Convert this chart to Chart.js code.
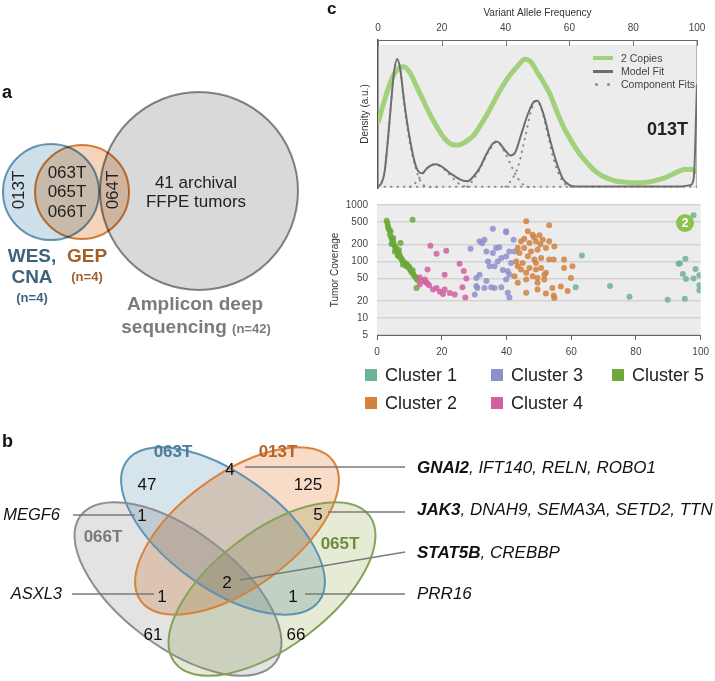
<!DOCTYPE html>
<html>
<head>
<meta charset="utf-8">
<script src="https://cdn.jsdelivr.net/npm/chart.js@4.4.0/dist/chart.umd.min.js"></script>
<style>
  body { margin: 0; background: #fff; font-family: "Liberation Sans", Arial, sans-serif; }
  #page { position: relative; width: 715px; height: 681px; overflow: hidden; }
  .box { position: absolute; }
  .t { position: absolute; white-space: nowrap; color: #222; transform: translateY(-50%); line-height: 1; }
</style>
</head>
<body>
<div id="page">
  <div class="box" style="left:0;top:0;width:300px;height:340px"><canvas id="vennA"></canvas></div>
  <div class="box" style="left:300px;top:0;width:415px;height:195px"><canvas id="density"></canvas></div>
  <div class="box" style="left:300px;top:190px;width:415px;height:180px"><canvas id="coverage"></canvas></div>
  <div class="box" style="left:0;top:390px;width:715px;height:291px"><canvas id="vennB"></canvas></div>
</div>
<script>
// ---------- panel a : which samples went through which assay
const setNames = ['WES,', 'CNA', 'GEP', 'Amplicon deep', 'sequencing'];
const setSizes = [4, 4, 42];
const wesOnly = ['013T'];
const wesAndGep = ['063T', '065T', '066T'];
const gepAndAmplicon = ['064T'];
const archivalText = ['41 archival', 'FFPE tumors'];

// ---------- panel b : shared variants between the 4 tumours
const sampleNames = ['063T', '013T', '066T', '065T'];
const regionCounts = [4, 47, 125, 1, 5, 2, 1, 1, 61, 66];
const rightGenes = [
  ['GNAI2', ', IFT140, RELN, ROBO1'],
  ['JAK3', ', DNAH9, SEMA3A, SETD2, TTN'],
  ['STAT5B', ', CREBBP'],
  ['', 'PRR16']
];
const leftGenes = ['MEGF6', 'ASXL3'];

// ---------- panel c, top : density vs VAF
const copiesVaf = [0,2,4,6,8,10,12,14,16,18,20,22,24,26,28,30,32,34,36,38,40,42,44,46,48,50,52,54,56,58,60,62,64,66,68,70,72,74,76,78,80,82,84,86,88,90,92,94,96,98,100];
const copiesDensity = [44,59,72,80,82,78,69,60,51,43,36,31,29,29.5,32,35.5,42,49,57,65,72,78,83,87,85,78,71,63,52,42,34,27,21,16,11.5,8.5,6.5,5,4.2,3.8,3.6,3.6,3.8,4.5,5.6,7,9,11,12.5,12.6,11];
const fitVaf = [0,1,2,3,4,5,6,7,8,9,10,11,12,13,14,15,16,18,20,22,24,26,28,30,32,34,36,37,38,40,41.5,43,45,47,49,50,52,54,56,58,60,62,70,80,90,95,98,99,100];
const fitDensity = [1,3,10,30,55,78,87,80,62,46,33,22,14,10.5,10,12.5,14.5,16,14.5,11,8,5.5,4.5,8,14,23,30,31.5,30.5,25,22,24,37,50,58.5,59,49,32,17,6,2,1,1,1,1,1,2,7,70];
const comp1Vaf = [0,2,3,4,5,6,7,8,10,12,13,14,16,20];
const comp1Density = [1,10,30,55,78,87,80,60,30,12,6,2.5,0.8,0.5];
const comp2Vaf = [10,12,14,16,18,20,22,24,26,28];
const comp2Density = [0.8,4,10,14.5,16,14,10,5.5,2,0.8];
const comp3Vaf = [28,30,32,34,36,37,38,40,42,44,46,48];
const comp3Density = [0.8,6,13,22,29,31,30,23,14,6,1.5,0.5];
const comp4Vaf = [40,42,44,46,48,49.5,51,53,55,57,59,61];
const comp4Density = [0.8,6,15,33,52,59,55,38,20,8,2,0.5];
const baseVaf = [0,50,100];
const baseDensity = [0.8,0.8,0.8];

// ---------- panel c, bottom : coverage vs VAF per cluster
const clusterNames = ['Cluster 1', 'Cluster 2', 'Cluster 3', 'Cluster 4', 'Cluster 5'];
const c1Vaf = [97.8,63.3,61.4,72.0,78.0,89.8,95.1,93.2,93.6,95.3,98.4,94.5,95.5,97.8,99.6,99.6,99.6];
const c1Cov = [656,128,35,37,23.7,21,22,91,93,112,74,60,49,50,57,38,31];
const c2Vaf = [46.1,53.2,46.6,48.1,50.2,45.5,44.5,47.1,49.1,51.2,53.2,43.5,45.5,47.6,49.6,52.2,54.8,44.0,46.6,48.6,50.7,53.2,54.6,43.0,45.0,47.1,49.1,50.7,52.2,43.5,44.5,46.1,48.1,49.6,43.5,46.1,49.6,51.7,54.2,56.8,58.9,57.8,60.4,57.8,59.9,46.1,49.6,54.8,54.6,51.7,42.5,49.1,52.2,48.5,50.5];
const c2Cov = [514,437,342,298,290,253,228,212,228,243,228,173,173,151,161,173,185,141,124,108,115,108,108,100,94,77,72,77,63,82,72,63,55,51,42,48,42,48,34,36,30,77,82,108,51,28,32,22.5,25,58,55,94,27,270,200];
const c3Vaf = [35.8,39.9,31.7,33.2,33.8,35.8,36.8,37.8,38.4,39.9,40.9,42.2,42.5,34.3,34.8,36.3,37.3,38.9,40.4,41.4,40.9,31.7,33.8,36.3,38.4,35.3,31.0,30.2,40.4,40.9,33.2,39.9,30.7,30.7,32.5,28.9,39.9];
const c3Cov = [381,342,228,243,151,141,173,178,115,123,151,243,151,100,82,82,100,71,67,94,58,58,45,34,35,35,34,26,28,23,34,48,51,37,210,168,330];
const c4Vaf = [16.5,18.4,21.4,15.6,20.9,25.5,26.8,27.6,26.4,13.2,14.8,15.1,13.2,16.1,17.3,18.4,19.4,20.4,20.9,22.5,24.0,27.3,14.0,15.5];
const c4Cov = [190,137,155,72,58,91,68,50,35,52,48,43,39,38,32,34,29,26.5,32,27.6,26,23,45,41];
const c5Vaf = [3.0,3.2,3.4,3.5,3.8,4.2,4.0,4.4,4.6,5.0,4.5,5.2,5.5,5.8,6.0,5.5,6.2,6.6,7.3,6.6,7.0,7.3,7.6,8.1,8.4,8.8,9.1,9.5,9.8,10.2,10.5,10.8,11.2,11.6,12.0,12.2,12.5,8.0,9.0,7.8,6.8,5.0,4.8,6.4,10.0,11.0,11.0,12.2];
const c5Cov = [527,480,420,391,360,342,300,270,250,228,205,200,185,175,165,151,150,140,212,124,130,118,110,100,95,90,82,85,78,72,68,64,60,55,52,50,47,88,92,104,160,260,210,130,80,70,549,34];
const vafTicks = [0, 20, 40, 60, 80, 100];
const coverageTicks = [5, 10, 20, 50, 100, 200, 500, 1000];

// ---------- look
const FONT = '"Liberation Sans", Arial, sans-serif';
Chart.defaults.font.family = FONT;
Chart.defaults.animation = false;
const clusterColors = ['#6db396', '#d0823f', '#8e8fcb', '#d35fa3', '#6ca83a'];

function pairs(xs, ys) {
  return xs.map((x, i) => ({x: x, y: ys[i]}));
}

const page = document.getElementById('page');
function label(text, x, y, css) {
  const d = document.createElement('div');
  d.className = 't';
  d.textContent = text;
  d.style.left = x + 'px';
  d.style.top = y + 'px';
  d.style.cssText += css || '';
  page.appendChild(d);
  return d;
}

// grey plot background
const plotBg = {
  id: 'plotBg',
  beforeDraw(chart, args, opts) {
    const a = chart.chartArea, ctx = chart.ctx, inset = opts.inset || 0;
    ctx.save();
    ctx.fillStyle = opts.color;
    ctx.fillRect(a.left, a.top + inset, a.right - a.left, a.bottom - a.top - inset);
    if (opts.rightLine) {
      ctx.strokeStyle = opts.rightLine;
      ctx.beginPath(); ctx.moveTo(a.right - 0.5, a.top); ctx.lineTo(a.right - 0.5, a.bottom); ctx.stroke();
    }
    ctx.restore();
  }
};

// short ticks pointing down from the top axis
const innerTicks = {
  id: 'innerTicks',
  afterDraw(chart) {
    const x = chart.scales.x, ctx = chart.ctx, top = chart.chartArea.top;
    ctx.save();
    ctx.strokeStyle = '#777';
    ctx.lineWidth = 1;
    x.ticks.forEach(t => {
      const px = Math.round(x.getPixelForValue(t.value)) + 0.5;
      ctx.beginPath(); ctx.moveTo(px, top); ctx.lineTo(px, top + 6); ctx.stroke();
    });
    ctx.restore();
  }
};

// overlapping shapes are blended like the printed figure
const multiplyBlend = {
  id: 'multiplyBlend',
  beforeDatasetsDraw(chart) { chart.ctx.save(); chart.ctx.globalCompositeOperation = 'multiply'; },
  afterDatasetsDraw(chart) { chart.ctx.restore(); }
};

function drawText(ctx, text, x, y, font, color, align, rot) {
  ctx.save();
  ctx.font = font;
  ctx.fillStyle = color;
  ctx.textAlign = align || 'center';
  ctx.textBaseline = 'middle';
  ctx.translate(x, y);
  if (rot) ctx.rotate(rot);
  ctx.fillText(text, 0, 0);
  ctx.restore();
}

// ================= panel a
const vennALayout = {
  circles: [
    {x: 51, y: 192, r: 48, fill: '#d0e0ea', line: '#6a9cbc'},
    {x: 82, y: 192, r: 47, fill: '#f4d4bb', line: '#d8853e'},
    {x: 199, y: 191, r: 99, fill: '#d9d9d9', line: '#8a8a8a'}
  ]
};

const vennAText = {
  id: 'vennAText',
  afterDraw(chart) {
    const ctx = chart.ctx, sx = chart.scales.x, sy = chart.scales.y;
    const P = (x, y) => [sx.getPixelForValue(x), sy.getPixelForValue(y)];
    let p;
    p = P(19, 190); drawText(ctx, wesOnly[0], p[0], p[1], '17px ' + FONT, '#222', 'center', -Math.PI / 2);
    wesAndGep.forEach((s, i) => { p = P(67, 173 + i * 19.5); drawText(ctx, s, p[0], p[1], '17px ' + FONT, '#222'); });
    p = P(113, 190); drawText(ctx, gepAndAmplicon[0], p[0], p[1], '17px ' + FONT, '#222', 'center', -Math.PI / 2);
    archivalText.forEach((s, i) => { p = P(196, 183 + i * 19.5); drawText(ctx, s, p[0], p[1], '17px ' + FONT, '#222'); });
    p = P(32, 257); drawText(ctx, setNames[0], p[0], p[1], 'bold 19px ' + FONT, '#3e6479');
    p = P(32, 278); drawText(ctx, setNames[1], p[0], p[1], 'bold 19px ' + FONT, '#3e6479');
    p = P(32, 298); drawText(ctx, '(n=' + setSizes[0] + ')', p[0], p[1], 'bold 13px ' + FONT, '#3e6479');
    p = P(87, 257); drawText(ctx, setNames[2], p[0], p[1], 'bold 19px ' + FONT, '#a35f28');
    p = P(87, 277); drawText(ctx, '(n=' + setSizes[1] + ')', p[0], p[1], 'bold 13px ' + FONT, '#a35f28');
    p = P(195, 305); drawText(ctx, setNames[3], p[0], p[1], 'bold 19px ' + FONT, '#7b7b7b');
    ctx.save();
    ctx.font = 'bold 19px ' + FONT; const w1 = ctx.measureText(setNames[4] + ' ').width;
    ctx.font = 'bold 13px ' + FONT; const w2 = ctx.measureText('(n=' + setSizes[2] + ')').width;
    ctx.restore();
    p = P(196, 328);
    const x0 = p[0] - (w1 + w2) / 2;
    drawText(ctx, setNames[4], x0, p[1], 'bold 19px ' + FONT, '#7b7b7b', 'left');
    drawText(ctx, '(n=' + setSizes[2] + ')', x0 + w1, p[1] + 1, 'bold 13px ' + FONT, '#7b7b7b', 'left');
  }
};

new Chart(document.getElementById('vennA'), {
  type: 'bubble',
  data: {
    datasets: vennALayout.circles.map((c, i) => ({
      label: ['WES, CNA', 'GEP', 'Amplicon deep sequencing'][i],
      data: [{x: c.x, y: c.y, r: c.r}],
      backgroundColor: c.fill,
      borderColor: c.line,
      borderWidth: 2,
      order: 2 - i,
      clip: false
    }))
  },
  options: {
    responsive: true, maintainAspectRatio: false,
    layout: {padding: 0, autoPadding: false},
    plugins: {legend: {display: false}, tooltip: {enabled: false}},
    scales: {
      x: {type: 'linear', display: false, min: 0, max: 300},
      y: {type: 'linear', display: false, min: 0, max: 340, reverse: true}
    }
  },
  plugins: [multiplyBlend, vennAText]
});

// ================= panel b
const vennBLayout = {
  ellipses: [
    {cx: 223, cy: 531, a: 119, b: 57, rot: 36, fill: '#d6e4ec', line: '#5f93b3'},
    {cx: 237, cy: 531, a: 119, b: 57, rot: -36, fill: '#f8dcc8', line: '#d9823a'},
    {cx: 178, cy: 589, a: 122, b: 58, rot: 37, fill: '#e3e3e3', line: '#8e8e8e'},
    {cx: 272, cy: 589, a: 122, b: 58, rot: -37, fill: '#e6ebd5', line: '#84a35a'}
  ],
  names: [[173, 452, '#4a7c9a'], [278, 452, '#b5652b'], [103, 537, '#7a7a7a'], [340, 544, '#6f8c3e']],
  counts: [[230, 470], [147, 485], [308, 485], [142, 516], [318, 515], [227, 583], [162, 597], [293, 597], [153, 635], [296, 635]],
  rightLines: [[[245, 467], [405, 467]], [[328, 512], [405, 512]], [[240, 580], [405, 552]], [[305, 594], [405, 594]]],
  rightText: [[417, 468], [417, 510], [417, 553], [417, 594]],
  leftLines: [[[73, 515], [135, 515]], [[72, 594], [154, 594]]],
  leftText: [[60, 515], [62, 594]]
};

const vennBDraw = {
  id: 'vennBDraw',
  beforeDatasetsDraw(chart) {
    const ctx = chart.ctx, sx = chart.scales.x, sy = chart.scales.y;
    ctx.save();
    ctx.globalCompositeOperation = 'multiply';
    vennBLayout.ellipses.forEach(e => {
      ctx.beginPath();
      ctx.ellipse(sx.getPixelForValue(e.cx), sy.getPixelForValue(e.cy), e.a, e.b, e.rot * Math.PI / 180, 0, Math.PI * 2);
      ctx.fillStyle = e.fill;
      ctx.fill();
    });
    ctx.globalCompositeOperation = 'source-over';
    ctx.lineWidth = 2;
    vennBLayout.ellipses.forEach(e => {
      ctx.beginPath();
      ctx.ellipse(sx.getPixelForValue(e.cx), sy.getPixelForValue(e.cy), e.a, e.b, e.rot * Math.PI / 180, 0, Math.PI * 2);
      ctx.strokeStyle = e.line;
      ctx.stroke();
    });
    ctx.restore();
  },
  afterDatasetsDraw(chart) {
    const ctx = chart.ctx, sx = chart.scales.x, sy = chart.scales.y;
    const P = (q) => [sx.getPixelForValue(q[0]), sy.getPixelForValue(q[1])];
    ctx.save();
    ctx.strokeStyle = '#7a7a7a';
    ctx.lineWidth = 1.5;
    vennBLayout.rightLines.concat(vennBLayout.leftLines).forEach(l => {
      const a = P(l[0]), b = P(l[1]);
      ctx.beginPath(); ctx.moveTo(a[0], a[1]); ctx.lineTo(b[0], b[1]); ctx.stroke();
    });
    ctx.restore();
    sampleNames.forEach((s, i) => {
      const n = vennBLayout.names[i], p = P(n);
      drawText(ctx, s, p[0], p[1], 'bold 17px ' + FONT, n[2]);
    });
    const meta = chart.getDatasetMeta(0);
    meta.data.forEach((pt, i) => {
      drawText(ctx, String(regionCounts[i]), pt.x, pt.y, '17px ' + FONT, '#111');
    });
    rightGenes.forEach((g, i) => {
      const p = P(vennBLayout.rightText[i]);
      ctx.save();
      ctx.font = 'italic bold 17px ' + FONT;
      const w = g[0] ? ctx.measureText(g[0]).width : 0;
      ctx.restore();
      if (g[0]) drawText(ctx, g[0], p[0], p[1], 'italic bold 17px ' + FONT, '#111', 'left');
      drawText(ctx, g[1], p[0] + w, p[1], 'italic 17px ' + FONT, '#111', 'left');
    });
    leftGenes.forEach((g, i) => {
      const p = P(vennBLayout.leftText[i]);
      drawText(ctx, g, p[0], p[1], 'italic 16.5px ' + FONT, '#111', 'right');
    });
  }
};

new Chart(document.getElementById('vennB'), {
  type: 'scatter',
  data: {
    datasets: [{
      label: 'shared variants',
      data: vennBLayout.counts.map(c => ({x: c[0], y: c[1]})),
      pointRadius: 0
    }]
  },
  options: {
    responsive: true, maintainAspectRatio: false,
    layout: {padding: 0, autoPadding: false},
    plugins: {legend: {display: false}, tooltip: {enabled: false}},
    scales: {
      x: {type: 'linear', display: false, min: 0, max: 715},
      y: {type: 'linear', display: false, min: 390, max: 681, reverse: true}
    }
  },
  plugins: [vennBDraw]
});

// ================= panel c, density
const lineStyle = {showLine: true, pointRadius: 0, cubicInterpolationMode: 'monotone', fill: false};
const dotted = {borderColor: '#8a8a8a', borderWidth: 2, borderDash: [0.5, 6], borderCapStyle: 'round'};

new Chart(document.getElementById('density'), {
  type: 'scatter',
  data: {
    datasets: [
      Object.assign({label: 'Model Fit', data: pairs(fitVaf, fitDensity), borderColor: '#6e6e6e', borderWidth: 2, order: 0}, lineStyle),
      Object.assign({label: '2 Copies', data: pairs(copiesVaf, copiesDensity), borderColor: '#a3d17b', borderWidth: 5, order: 1}, lineStyle),
      Object.assign({label: 'Component Fits', data: pairs(comp1Vaf, comp1Density), order: 2}, lineStyle, dotted),
      Object.assign({label: 'Component Fits', data: pairs(comp2Vaf, comp2Density), order: 2}, lineStyle, dotted),
      Object.assign({label: 'Component Fits', data: pairs(comp3Vaf, comp3Density), order: 2}, lineStyle, dotted),
      Object.assign({label: 'Component Fits', data: pairs(comp4Vaf, comp4Density), order: 2}, lineStyle, dotted),
      Object.assign({label: 'Component Fits', data: pairs(baseVaf, baseDensity), order: 2}, lineStyle, dotted)
    ]
  },
  options: {
    responsive: true, maintainAspectRatio: false,
    layout: {padding: {left: 55, right: 18, top: 0, bottom: 7}, autoPadding: false},
    plugins: {
      legend: {display: false}, tooltip: {enabled: false},
      plotBg: {color: '#ececec', inset: 5, rightLine: '#b5b5b5'}
    },
    scales: {
      x: {
        type: 'linear', position: 'top', min: 0, max: 100,
        afterBuildTicks(s) { s.ticks = vafTicks.map(v => ({value: v})); },
        ticks: {padding: 6, color: '#444', font: {size: 10}},
        grid: {display: false, drawTicks: false},
        border: {display: true, color: '#666', width: 1},
        title: {display: true, text: 'Variant Allele Frequency', color: '#333', font: {size: 10}, padding: {top: 7, bottom: 0}},
        afterFit(s) { s.height = 40; }
      },
      y: {
        min: 0, max: 100,
        ticks: {display: false},
        grid: {display: false, drawTicks: false},
        border: {display: true, color: '#555', width: 1.5},
        title: {display: true, text: 'Density (a.u.)', color: '#333', font: {size: 10}, padding: {top: 4, bottom: 0}},
        afterFit(s) { s.width = 23; }
      }
    }
  },
  plugins: [plotBg, innerTicks]
});

// ================= panel c, coverage
new Chart(document.getElementById('coverage'), {
  type: 'scatter',
  data: {
    datasets: [
      [c1Vaf, c1Cov], [c2Vaf, c2Cov], [c3Vaf, c3Cov], [c4Vaf, c4Cov], [c5Vaf, c5Cov]
    ].map((d, i) => ({
      label: clusterNames[i],
      data: pairs(d[0], d[1]),
      backgroundColor: clusterColors[i] + 'd9',
      borderWidth: 0,
      pointRadius: 3
    }))
  },
  options: {
    responsive: true, maintainAspectRatio: false,
    layout: {padding: {left: 25, right: 13, top: 15, bottom: 0}, autoPadding: false},
    plugins: {
      legend: {display: false}, tooltip: {enabled: false},
      plotBg: {color: '#ececec', inset: 0}
    },
    scales: {
      x: {
        type: 'linear', min: 0, max: 100,
        afterBuildTicks(s) { s.ticks = vafTicks.map(v => ({value: v})); },
        ticks: {padding: 6, color: '#444', font: {size: 10}},
        grid: {drawOnChartArea: false, tickLength: 5, color: '#666'},
        border: {display: true, color: '#666', width: 1},
        afterFit(s) { s.height = 35; }
      },
      y: {
        type: 'logarithmic', min: 5, max: 1000,
        afterBuildTicks(s) { s.ticks = coverageTicks.map(v => ({value: v})); },
        ticks: {padding: 9, color: '#444', font: {size: 10}, callback: v => String(v)},
        grid: {color: '#d3d3d3', lineWidth: 1.5, drawTicks: false},
        border: {display: false},
        title: {display: true, text: 'Tumor Coverage', color: '#333', font: {size: 10}, padding: {top: 4, bottom: 0}},
        afterFit(s) { s.width = 52; }
      }
    }
  },
  plugins: [plotBg]
});

// ================= html bits: panel letters, legends, badges
label('a', 2, 92, 'font-weight:bold;font-size:18px;color:#111');
label('b', 2, 441, 'font-weight:bold;font-size:18px;color:#111');
label('c', 327, 8, 'font-weight:bold;font-size:17px;color:#111');

// density legend
const dLegend = [['2 Copies', 58], ['Model Fit', 71], ['Component Fits', 84]];
dLegend.forEach(l => label(l[0], 621, l[1], 'font-size:10.5px;color:#444'));
const gl = document.createElement('div');
gl.style.cssText = 'position:absolute;left:593px;top:56px;width:20px;height:4px;background:#a3d17b';
page.appendChild(gl);
const ml = document.createElement('div');
ml.style.cssText = 'position:absolute;left:593px;top:70px;width:20px;height:3px;background:#6e6e6e';
page.appendChild(ml);
[595, 607].forEach(x => {
  const d = document.createElement('div');
  d.style.cssText = 'position:absolute;left:' + x + 'px;top:83px;width:3px;height:3px;border-radius:50%;background:#8a8a8a';
  page.appendChild(d);
});
label('013T', 647, 129, 'font-weight:bold;font-size:18px;color:#222');

// badge on the coverage plot
const badge = document.createElement('div');
badge.textContent = '2';
badge.style.cssText = 'position:absolute;left:676px;top:214px;width:18px;height:18px;border-radius:50%;background:#8dc24e;color:#fff;font-weight:bold;font-size:12px;line-height:18px;text-align:center';
page.appendChild(badge);

// cluster legend
const legX = [365, 491, 612], legY = [375, 403];
clusterNames.forEach((n, i) => {
  const x = legX[Math.floor(i / 2)], y = legY[i % 2];
  const sq = document.createElement('div');
  sq.style.cssText = 'position:absolute;left:' + x + 'px;top:' + (y - 6) + 'px;width:12px;height:12px;background:' + clusterColors[i];
  page.appendChild(sq);
  label(n, x + 20, y, 'font-size:18px;color:#222');
});
</script>
</body>
</html>
